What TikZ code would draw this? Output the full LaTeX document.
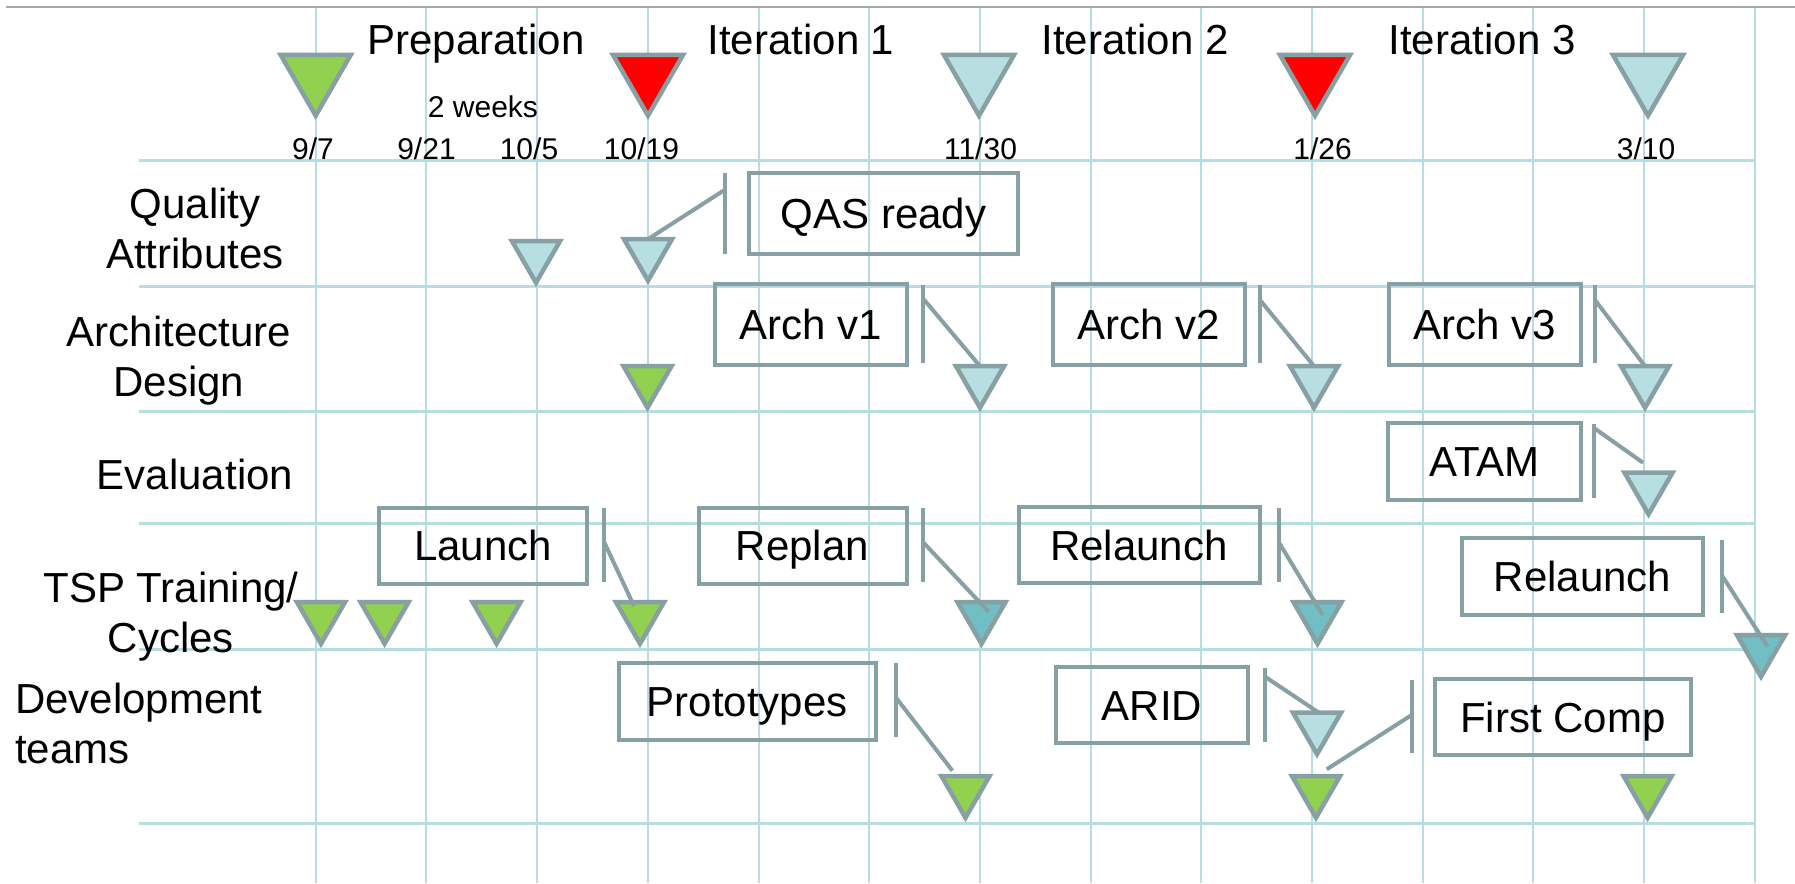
\documentclass[tikz,border=0pt]{standalone}
\usepackage{fontspec}
\setmainfont{Liberation Sans}
\usetikzlibrary{shapes.geometric}
\definecolor{gridc}{HTML}{B7DDE0}
\definecolor{edgec}{HTML}{87A0A3}
\definecolor{lightc}{HTML}{B7DEE1}
\definecolor{greenc}{HTML}{92D050}
\definecolor{redc}{HTML}{FF0000}
\definecolor{tealc}{HTML}{72BEC5}
\definecolor{topc}{HTML}{A6A6A6}
\begin{document}
\begin{tikzpicture}[x=1pt,y=-1pt,
  vline/.style={draw=gridc, line width=2pt},
  hline/.style={draw=gridc, line width=3pt},
  tri/.style={regular polygon, regular polygon sides=3, shape border rotate=180,
    draw=edgec, line width=4.5pt, line join=miter, inner sep=0pt, outer sep=0pt,
    minimum size=55.4pt},
  bigtri/.style={tri, minimum size=80.8pt},
  box/.style={rectangle, draw=edgec, line width=4pt, inner sep=0pt,
    minimum height=77pt, font=\fontsize{42}{50}\selectfont,
    text height=30pt, text depth=0pt},
  link/.style={draw=edgec, line width=4pt},
  big/.style={font=\fontsize{42}{50}\selectfont, inner sep=0pt},
  small/.style={font=\fontsize{30}{36}\selectfont, inner sep=0pt},
]
\useasboundingbox (0,0) rectangle (1795,883);

% grid
\foreach \i in {0,...,13}
  \draw[vline] ({315.7+110.7*\i},7) -- ({315.7+110.7*\i},883);
\foreach \y in {160,286,411,523,649,823}
  \draw[hline] (139,\y) -- (1755,\y);
\draw[draw=topc, line width=2pt] (6,7) -- (1795,7);

% phase headings
\node[big, anchor=base] (hprep) at (476,55) {Preparation};
\node[big, anchor=base] (hit1) at (801,55) {Iteration 1};
\node[big, anchor=base] (hit2) at (1135,55) {Iteration 2};
\node[big, anchor=base] (hit3) at (1482,55) {Iteration 3};
\node[small, anchor=base] (weeks) at (483,117) {2 weeks};

% dates
\node[small, anchor=base] (d1) at (313,159) {9/7};
\node[small, anchor=base] (d2) at (426.5,159) {9/21};
\node[small, anchor=base] (d3) at (529,159) {10/5};
\node[small, anchor=base] (d4) at (641.5,159) {10/19};
\node[small, anchor=base] (d5) at (980.5,159) {11/30};
\node[small, anchor=base] (d6) at (1322.6,159) {1/26};
\node[small, anchor=base] (d7) at (1646,159) {3/10};

% milestones
\node[bigtri, fill=greenc] (m0) at (315.7,75.2) {};
\node[bigtri, fill=redc] (m1) at (648,75.2) {};
\node[bigtri, fill=lightc] (m2) at (979,75.2) {};
\node[bigtri, fill=redc] (m3) at (1315,75.2) {};
\node[bigtri, fill=lightc] (m4) at (1648,75.2) {};

% row labels (anchored on the baseline of their last line)
\node[big, anchor=base, align=center] (lqa) at (195,268) {Quality\\Attributes};
\node[big, anchor=base, align=center] (lad) at (179,396.7) {Architecture\\Design};
\node[big, anchor=base, align=center] (lev) at (195,489) {Evaluation};
\node[big, anchor=base, align=center] (lts) at (171,652) {TSP Training/\\Cycles};
\node[big, anchor=base west, align=left] (ldt) at (15,763) {Development\\teams};

% quality attributes
\node[tri, fill=lightc] (q1) at (536,255) {};
\node[tri, fill=lightc] (q2) at (648,253) {};
\node[box, minimum width=269pt, minimum height=81pt] (qas) at (883.5,213.5) {QAS ready};

% architecture design
\node[tri, fill=greenc] (a0) at (647.5,380) {};
\node[tri, fill=lightc] (a1) at (980,380) {};
\node[tri, fill=lightc] (a2) at (1314,380) {};
\node[tri, fill=lightc] (a3) at (1645,380) {};
\node[box, minimum width=192pt, minimum height=81pt] (av1) at (811,324) {Arch v1};
\node[box, minimum width=192pt, minimum height=81pt] (av2) at (1148.5,324.5) {Arch v2};
\node[box, minimum width=192pt, minimum height=81pt] (av3) at (1484.5,324.5) {Arch v3};

% evaluation
\node[tri, fill=lightc] (e1) at (1648.5,486.5) {};
\node[box, minimum width=193.5pt] (atam) at (1484.3,461) {ATAM};

% TSP training / cycles
\node[tri, fill=greenc] (c1) at (321,616) {};
\node[tri, fill=greenc] (c2) at (384.6,616) {};
\node[tri, fill=greenc] (c3) at (496.6,616) {};
\node[tri, fill=greenc] (c4) at (640,616) {};
\node[tri, fill=tealc] (c5) at (981.5,616) {};
\node[tri, fill=tealc] (c6) at (1317.5,616) {};
\node[tri, fill=tealc] (c7) at (1761,649) {};
\node[box, minimum width=208pt, minimum height=76pt] (launch) at (483,545.5) {Launch};
\node[box, minimum width=208pt, minimum height=76pt] (replan) at (802.5,545.5) {Replan};
\node[box, minimum width=241pt, minimum height=76pt] (relA) at (1139,545.4) {Relaunch};
\node[box, minimum width=241pt] (relB) at (1582.5,576.7) {Relaunch};

% development teams
\node[tri, fill=greenc] (g1) at (965.5,790) {};
\node[tri, fill=greenc] (g2) at (1316,790) {};
\node[tri, fill=greenc] (g3) at (1647.6,790) {};
\node[tri, fill=lightc] (r1) at (1317,726.5) {};
\node[box, minimum width=256.5pt] (proto) at (747.3,701) {Prototypes};
\node[box, minimum width=192pt, minimum height=76pt] (arid) at (1151.9,705.3) {ARID};
\node[box, minimum width=256.4pt, minimum height=76pt] (fcomp) at (1562.8,717) {First Comp};

% bar markers and their leader lines
\coordinate (qasT) at (724.5,173);  \coordinate (qasB) at (724.5,254);  \coordinate (qasS) at (724.5,190);
\coordinate (av1T) at (922.6,285);  \coordinate (av1B) at (922.6,363);  \coordinate (av1S) at (922.6,298);
\coordinate (av2T) at (1260,285);   \coordinate (av2B) at (1260,363);   \coordinate (av2S) at (1260,300);
\coordinate (av3T) at (1595,285);   \coordinate (av3B) at (1595,363);   \coordinate (av3S) at (1595,300);
\coordinate (atT) at (1594,424);    \coordinate (atB) at (1594,498);    \coordinate (atS) at (1594,428);
\coordinate (atE) at (1643,462.7);
\coordinate (laT) at (604,508);     \coordinate (laB) at (604,581.7);   \coordinate (laS) at (604,541.7);
\coordinate (laE) at (634,606);
\coordinate (rpT) at (922.6,508.3); \coordinate (rpB) at (922.6,581.7); \coordinate (rpS) at (922.6,541.7);
\coordinate (rpE) at (988.6,611.7);
\coordinate (raT) at (1278.5,508);  \coordinate (raB) at (1278.5,582);  \coordinate (raS) at (1278.5,541.7);
\coordinate (raE) at (1322.7,615);
\coordinate (rbT) at (1721.7,540);  \coordinate (rbB) at (1721.7,613);  \coordinate (rbS) at (1721.7,575);
\coordinate (rbE) at (1767.6,646.7);
\coordinate (prT) at (895.5,663);   \coordinate (prB) at (895.5,736.7); \coordinate (prS) at (895.5,697);
\coordinate (prE) at (952.4,770.7);
\coordinate (arT) at (1265,668);    \coordinate (arB) at (1265,741.7);  \coordinate (arS) at (1265,676.7);
\coordinate (arE) at (1319.8,713.3);
\coordinate (fcT) at (1411.7,680);  \coordinate (fcB) at (1411.7,753.3); \coordinate (fcS) at (1411.7,715);
\coordinate (fcE) at (1326.7,769.3);

\draw[link] (qasT) -- (qasB);  \draw[link] (qasS) -- (q2.side 2);
\draw[link] (av1T) -- (av1B);  \draw[link] (av1S) -- (a1.side 2);
\draw[link] (av2T) -- (av2B);  \draw[link] (av2S) -- (a2.side 2);
\draw[link] (av3T) -- (av3B);  \draw[link] (av3S) -- (a3.side 2);
\draw[link] (atT) -- (atB);    \draw[link] (atS) -- (atE);
\draw[link] (laT) -- (laB);    \draw[link] (laS) -- (laE);
\draw[link] (rpT) -- (rpB);    \draw[link] (rpS) -- (rpE);
\draw[link] (raT) -- (raB);    \draw[link] (raS) -- (raE);
\draw[link] (rbT) -- (rbB);    \draw[link] (rbS) -- (rbE);
\draw[link] (prT) -- (prB);    \draw[link] (prS) -- (prE);
\draw[link] (arT) -- (arB);    \draw[link] (arS) -- (arE);
\draw[link] (fcT) -- (fcB);    \draw[link] (fcS) -- (fcE);
\end{tikzpicture}
\end{document}
